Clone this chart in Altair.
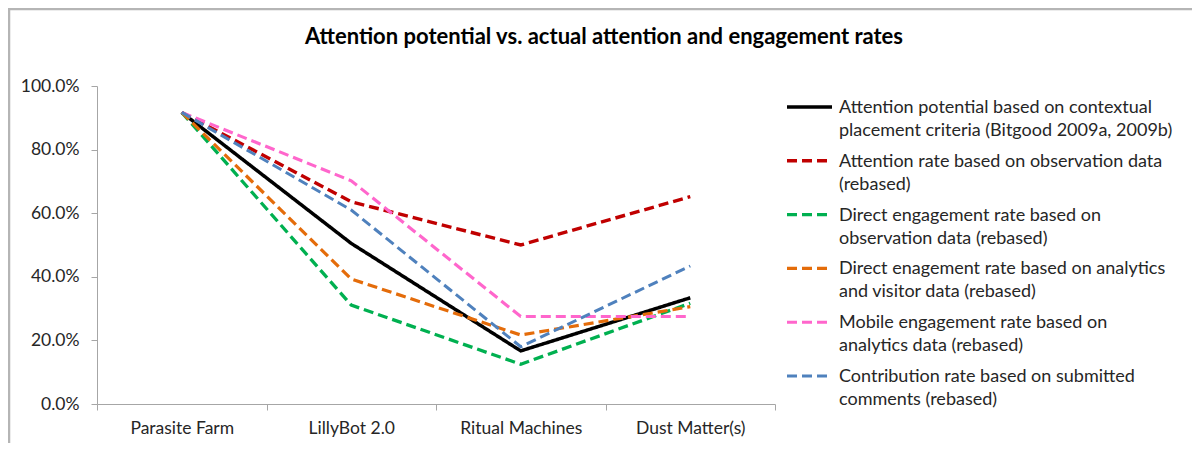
import altair as alt
import pandas as pd

venues = ["Parasite Farm", "LillyBot 2.0", "Ritual Machines", "Dust Matter(s)"]

series = [
    "Attention potential based on contextual|placement criteria (Bitgood 2009a, 2009b)",
    "Attention rate based on observation data|(rebased)",
    "Direct engagement rate based on|observation data (rebased)",
    "Direct enagement rate based on analytics|and visitor data (rebased)",
    "Mobile engagement rate based on|analytics data (rebased)",
    "Contribution rate based on submitted|comments (rebased)",
]

potential = [0.917, 0.505, 0.167, 0.334]
attention = [0.917, 0.636, 0.500, 0.652]
direct_obs = [0.917, 0.311, 0.125, 0.317]
direct_analytics = [0.917, 0.393, 0.217, 0.306]
mobile = [0.917, 0.702, 0.275, 0.275]
contribution = [0.917, 0.610, 0.180, 0.434]

values = [potential, attention, direct_obs, direct_analytics, mobile, contribution]

colors = ["#000000", "#C00000", "#00B050", "#E46C0A", "#FF66CC", "#4F81BD"]
dashes = [[1, 0], [10, 5], [10, 5], [10, 5], [10, 5], [10, 5]]
widths = [3.5, 3, 3, 3, 3, 3]

title_text = "Attention potential vs. actual attention and engagement rates"

rows = []
for s, vals in zip(series, values):
    for v, val in zip(venues, vals):
        rows.append({"series": s, "venue": v, "value": val})
df = pd.DataFrame(rows)
legend_df = pd.DataFrame({"series": series})
title_df = pd.DataFrame({"t": [title_text]})

FONT = "Lato"
AX = "#a6a6a6"
LBL = "#262626"

color_enc = alt.Color("series:N", scale=alt.Scale(domain=series, range=colors), legend=None)
dash_enc = alt.StrokeDash("series:N", scale=alt.Scale(domain=series, range=dashes), legend=None)
width_enc = alt.StrokeWidth("series:N", scale=alt.Scale(domain=series, range=widths), legend=None)

border = alt.Chart(title_df).mark_rect(fillOpacity=0, stroke="#b5b5b5", strokeWidth=2.5).encode(
    x=alt.value(-88), x2=alt.value(1300), y=alt.value(-77), y2=alt.value(600)
)

lines = alt.Chart(df).mark_line(strokeCap="butt", strokeJoin="miter").encode(
    x=alt.X(
        "venue:N",
        sort=venues,
        bandPosition=0.5,
        scale=alt.Scale(type="band", paddingInner=0, paddingOuter=0),
        axis=alt.Axis(
            title=None, labelAngle=0, tickBand="extent", tickSize=6, labelPadding=9,
            domainColor=AX, tickColor=AX, labelColor=LBL, labelFont=FONT, labelFontSize=17.5,
        ),
    ),
    y=alt.Y(
        "value:Q",
        scale=alt.Scale(domain=[0, 1]),
        axis=alt.Axis(
            title=None, format=".1%", values=[0, 0.2, 0.4, 0.6, 0.8, 1.0], grid=False,
            tickSize=6, labelPadding=12, domainColor=AX, tickColor=AX, labelColor=LBL,
            labelFont=FONT, labelFontSize=17.5,
        ),
    ),
    color=color_enc,
    strokeDash=dash_enc,
    strokeWidth=width_enc,
    detail="series:N",
)

leg_y = alt.Y("series:N", sort=series, scale=alt.Scale(type="point", range=[21, 290], padding=0), axis=None)

leg_sym = alt.Chart(legend_df).mark_rule(strokeCap="butt").encode(
    x=alt.value(690), x2=alt.value(735), y=leg_y,
    color=color_enc, strokeDash=dash_enc, strokeWidth=width_enc,
)

leg_txt = alt.Chart(legend_df).mark_text(
    align="left", baseline="alphabetic", dy=6, lineBreak="|", lineHeight=23,
    font=FONT, fontSize=18, color=LBL,
).encode(x=alt.value(742), y=leg_y, text="series:N")

title = alt.Chart(title_df).mark_text(
    align="center", baseline="middle", font=FONT, fontSize=22, fontWeight="bold", color="#000000"
).encode(x=alt.value(507), y=alt.value(-49), text="t:N")

chart = (
    alt.layer(border, lines, leg_sym, leg_txt, title)
    .resolve_scale(y="independent")
    .properties(
        width=678, height=318,
        autosize=alt.AutoSizeParams(type="none"),
        padding={"left": 89, "top": 78, "right": 417, "bottom": 39},
        background="white",
    )
    .configure_view(stroke=None)
)

chart.save("out.html", embed_options={"renderer": "svg", "actions": False})
